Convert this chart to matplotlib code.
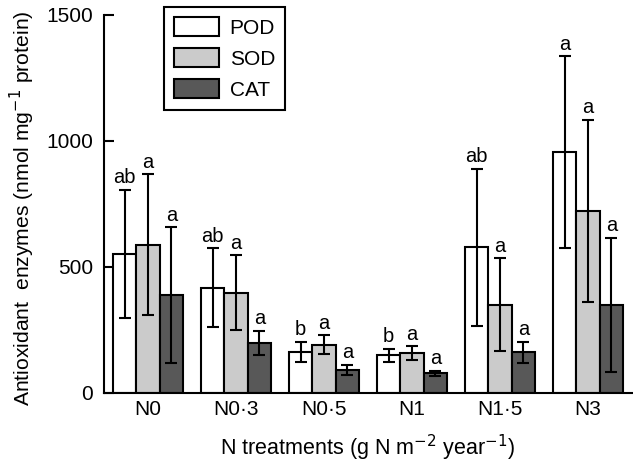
import matplotlib
matplotlib.use("Agg")
import matplotlib.pyplot as plt
import numpy as np

plt.rcParams['font.family'] = ['Liberation Sans', 'DejaVu Sans']

categories = ["N0", "N0·3", "N0·5", "N1", "N1·5", "N3"]
series_names = ["POD", "SOD", "CAT"]
pod = [551, 418, 163, 150, 578, 956]
sod = [588, 398, 192, 158, 350, 723]
cat = [388, 200, 91, 78, 162, 350]
pod_err = [255, 157, 40, 26, 312, 380]
sod_err = [280, 148, 38, 28, 185, 362]
cat_err = [270, 48, 21, 10, 41, 266]
pod_lbl = ["ab", "ab", "b", "b", "ab", "a"]
sod_lbl = ["a", "a", "a", "a", "a", "a"]
cat_lbl = ["a", "a", "a", "a", "a", "a"]
colors = ["#ffffff", "#cbcbcb", "#585858"]

fig = plt.figure(figsize=(6.33, 4.62), dpi=100)
ax = fig.add_axes([104/633, 1-393/462, 528/633, 378/462])

x = np.arange(len(categories))
w = 0.267
vals = [pod, sod, cat]
errs = [pod_err, sod_err, cat_err]
lbls = [pod_lbl, sod_lbl, cat_lbl]
for i, (v, e, l, c, n) in enumerate(zip(vals, errs, lbls, colors, series_names)):
    xs = x + (i - 1) * w
    ax.bar(xs, v, width=w, color=c, edgecolor="black", linewidth=1.5, label=n, zorder=2)
    ax.errorbar(xs, v, yerr=e, fmt="none", ecolor="black", elinewidth=1.5,
                capsize=4.3, capthick=1.5, zorder=3)
    for xi, vi, ei, li in zip(xs, v, e, l):
        ax.text(xi, vi + ei + 10, li, ha="center", va="bottom", fontsize=14.5)

ax.set_xlim(-0.5, 5.5)
ax.set_ylim(0, 1500)
ax.set_yticks([0, 500, 1000, 1500])
ax.set_xticks(x)
ax.set_xticklabels(categories)
ax.tick_params(axis="both", direction="in", length=7, width=1.5, labelsize=15)
ax.tick_params(axis="x", pad=5)
ax.tick_params(axis="y", pad=8)
for s in ["top", "right"]:
    ax.spines[s].set_visible(False)
for s in ["left", "bottom"]:
    ax.spines[s].set_linewidth(1.5)

ax.set_xlabel("N treatments (g N m$^{-2}$ year$^{-1}$)", fontsize=15.5, labelpad=10)
ax.set_ylabel("Antioxidant  enzymes (nmol mg$^{-1}$ protein)", fontsize=15.2)
ax.yaxis.set_label_coords(-0.126, 0.49)

leg = ax.legend(loc="upper left", bbox_to_anchor=(164/633, 1-7/462),
                bbox_transform=fig.transFigure, borderaxespad=0,
                fontsize=15, handlelength=2.15, handleheight=1.0,
                fancybox=False, edgecolor="black", framealpha=1,
                labelspacing=0.5, borderpad=0.5, handletextpad=0.5)
leg.get_frame().set_linewidth(1.5)

fig.savefig("out.png", dpi=100)
